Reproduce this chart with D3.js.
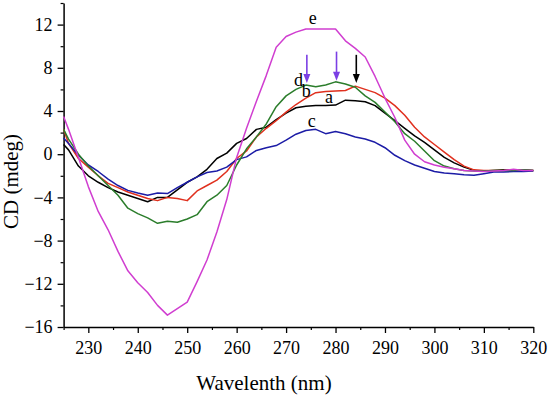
<!DOCTYPE html>
<html>
<head>
<meta charset="utf-8">
<script src="https://cdn.jsdelivr.net/npm/d3@7"></script>
<style>
  html, body { margin: 0; padding: 0; background: #fff; }
  svg { display: block; }
  text { font-family: "Liberation Serif", "Times New Roman", serif; fill: #000; }
</style>
</head>
<body>
<svg id="chart" width="550" height="396"></svg>
<script>
// ---- data ----
const wavelengths = [225,226,228,230,232,234,236,238,240,242,244,246,248,250,252,254,256,258,260,262,264,266,268,270,272,274,276,278,280,282,284,286,288,290,292,294,296,298,300,302,304,306,308,310,312,314,316,318,320];

const seriesA = [0.9,0.4,-1.1,-2.0,-2.6,-3.1,-3.5,-3.8,-4.1,-4.4,-4.0,-4.0,-3.3,-2.6,-2.1,-1.4,-0.4,0.1,1.0,1.45,2.3,2.5,3.2,3.8,4.3,4.45,4.5,4.5,4.55,5.0,4.95,4.85,4.5,3.8,3.1,2.4,1.7,1.1,0.4,-0.3,-0.8,-1.2,-1.5,-1.55,-1.5,-1.45,-1.5,-1.45,-1.5];
const seriesB = [2.3,1.0,-0.4,-1.2,-2.0,-2.7,-3.1,-3.5,-3.8,-4.1,-4.3,-4.0,-4.1,-4.3,-3.4,-2.9,-2.4,-1.6,-0.4,0.3,1.6,2.4,3.1,3.9,4.6,5.2,5.7,5.8,5.85,5.9,6.3,6.0,5.7,5.2,4.5,3.6,2.5,1.6,0.9,0.2,-0.5,-1.1,-1.45,-1.5,-1.5,-1.5,-1.45,-1.5,-1.5];
const seriesC = [1.5,1.0,-0.1,-1.0,-1.6,-2.3,-2.9,-3.35,-3.6,-3.8,-3.6,-3.65,-3.1,-2.6,-2.1,-1.7,-1.55,-1.2,-0.5,-0.25,0.35,0.6,0.8,1.3,1.85,2.2,2.3,1.9,2.1,1.9,1.6,1.4,1.1,0.6,-0.1,-0.6,-1.0,-1.3,-1.6,-1.75,-1.8,-1.9,-1.95,-1.8,-1.65,-1.65,-1.6,-1.6,-1.55];
const seriesD = [2.3,1.4,0.0,-1.1,-2.0,-2.9,-3.8,-5.0,-5.5,-5.9,-6.4,-6.2,-6.3,-6.0,-5.6,-4.4,-3.8,-2.9,-1.0,0.5,1.6,2.8,4.4,5.4,6.0,6.4,6.25,6.4,6.7,6.5,6.2,5.4,4.8,3.9,3.0,1.9,1.2,0.3,-0.6,-1.1,-1.35,-1.5,-1.55,-1.55,-1.5,-1.5,-1.5,-1.45,-1.5];
const seriesE = [3.5,2.3,-0.3,-3.0,-5.3,-7.0,-9.0,-10.8,-11.9,-12.8,-14.0,-14.9,-14.3,-13.7,-11.8,-9.8,-7.2,-4.2,-0.3,2.4,4.9,7.3,9.9,10.9,11.3,11.6,11.6,11.6,11.6,10.5,9.8,9.0,7.2,5.2,3.4,1.3,0.0,-0.7,-1.0,-1.2,-1.35,-1.5,-1.55,-1.6,-1.55,-1.5,-1.4,-1.5,-1.5];

const seriesNames = ["a","b","c","d","e"];
const seriesColors = ["#000000","#e0301e","#1c1ca6","#2b7d2b","#d03ed0"];

// curve label anchors (wavelength, value at text baseline)
const labelNm = [278.7, 274.1, 275.2, 272.5, 275.4];
const labelVal = [4.75, 5.3, 2.5, 6.35, 12.1];

// arrows (wavelength, top value, tip value)
const arrowNm = [274.2, 280.2, 284.2];
const arrowTop = [9.2, 9.5, 9.2];
const arrowTip = [6.6, 6.8, 6.6];
const arrowColors = ["#7b3fe4","#7b3fe4","#000000"];

const xTicksMajor = [230,240,250,260,270,280,290,300,310,320];
const xTicksMinor = [225,235,245,255,265,275,285,295,305,315];
const yTicksMajor = [-16,-12,-8,-4,0,4,8,12];
const yTicksMinor = [-14,-10,-6,-2,2,6,10,14];

const xLabel = "Wavelenth (nm)";
const yLabel = "CD (mdeg)";

// ---- drawing ----
const svg = d3.select("#chart");
const x = d3.scaleLinear().domain([225, 320]).range([63.6, 533.3]);
const y = d3.scaleLinear().domain([-16, 14]).range([327, 3]);

const allSeries = [seriesA, seriesB, seriesC, seriesD, seriesE];

// minor ticks
svg.append("g").attr("transform", `translate(0,${y(-16)})`)
  .call(d3.axisBottom(x).tickValues(xTicksMinor).tickSize(3).tickSizeOuter(0).tickFormat(""))
  .call(g => g.select(".domain").remove())
  .selectAll("line").attr("stroke", "#000").attr("stroke-width", 1.2);
svg.append("g").attr("transform", `translate(${x(225)},0)`)
  .call(d3.axisLeft(y).tickValues(yTicksMinor).tickSize(3).tickSizeOuter(0).tickFormat(""))
  .call(g => g.select(".domain").remove())
  .selectAll("line").attr("stroke", "#000").attr("stroke-width", 1.2);

// major axes
const xAxis = svg.append("g").attr("transform", `translate(0,${y(-16)})`)
  .call(d3.axisBottom(x).tickValues(xTicksMajor).tickSize(6).tickSizeOuter(0).tickPadding(8).tickFormat(d3.format("d")));
const yAxis = svg.append("g").attr("transform", `translate(${x(225)},0)`)
  .call(d3.axisLeft(y).tickValues(yTicksMajor).tickSize(6).tickSizeOuter(0).tickPadding(5).tickFormat(d3.format("d")));

[xAxis, yAxis].forEach(g => {
  g.select(".domain").attr("stroke", "#000").attr("stroke-width", 1.5);
  g.selectAll(".tick line").attr("stroke", "#000").attr("stroke-width", 1.3);
  g.selectAll(".tick text").attr("font-size", 18).attr("font-family", "'Liberation Serif', serif").attr("fill", "#000");
});

// lines
const line = d3.line()
  .x((d, i) => x(wavelengths[i]))
  .y(d => y(d));

svg.append("g").selectAll("path")
  .data(allSeries)
  .join("path")
  .attr("d", d => line(d))
  .attr("fill", "none")
  .attr("stroke", (d, i) => seriesColors[i])
  .attr("stroke-width", 1.5)
  .attr("stroke-linejoin", "round");

// curve labels
svg.append("g").selectAll("text")
  .data(seriesNames)
  .join("text")
  .attr("x", (d, i) => x(labelNm[i]))
  .attr("y", (d, i) => y(labelVal[i]))
  .attr("text-anchor", "middle")
  .attr("font-size", 18)
  .text(d => d);

// arrows
const arrowG = svg.append("g");
arrowNm.forEach((nm, i) => {
  const ax = x(nm), y0 = y(arrowTop[i]), y1 = y(arrowTip[i]);
  arrowG.append("line")
    .attr("x1", ax).attr("x2", ax)
    .attr("y1", y0).attr("y2", y1 - 6)
    .attr("stroke", arrowColors[i]).attr("stroke-width", 1.6);
  arrowG.append("path")
    .attr("d", `M${ax - 3.5},${y1 - 9} L${ax + 3.5},${y1 - 9} L${ax},${y1} Z`)
    .attr("fill", arrowColors[i]);
});

// axis titles
svg.append("text")
  .attr("x", 264).attr("y", 390)
  .attr("text-anchor", "middle")
  .attr("font-size", 21)
  .text(xLabel);

svg.append("text")
  .attr("transform", "translate(18,181.5) rotate(-90)")
  .attr("text-anchor", "middle")
  .attr("font-size", 21)
  .text(yLabel);
</script>
</body>
</html>
